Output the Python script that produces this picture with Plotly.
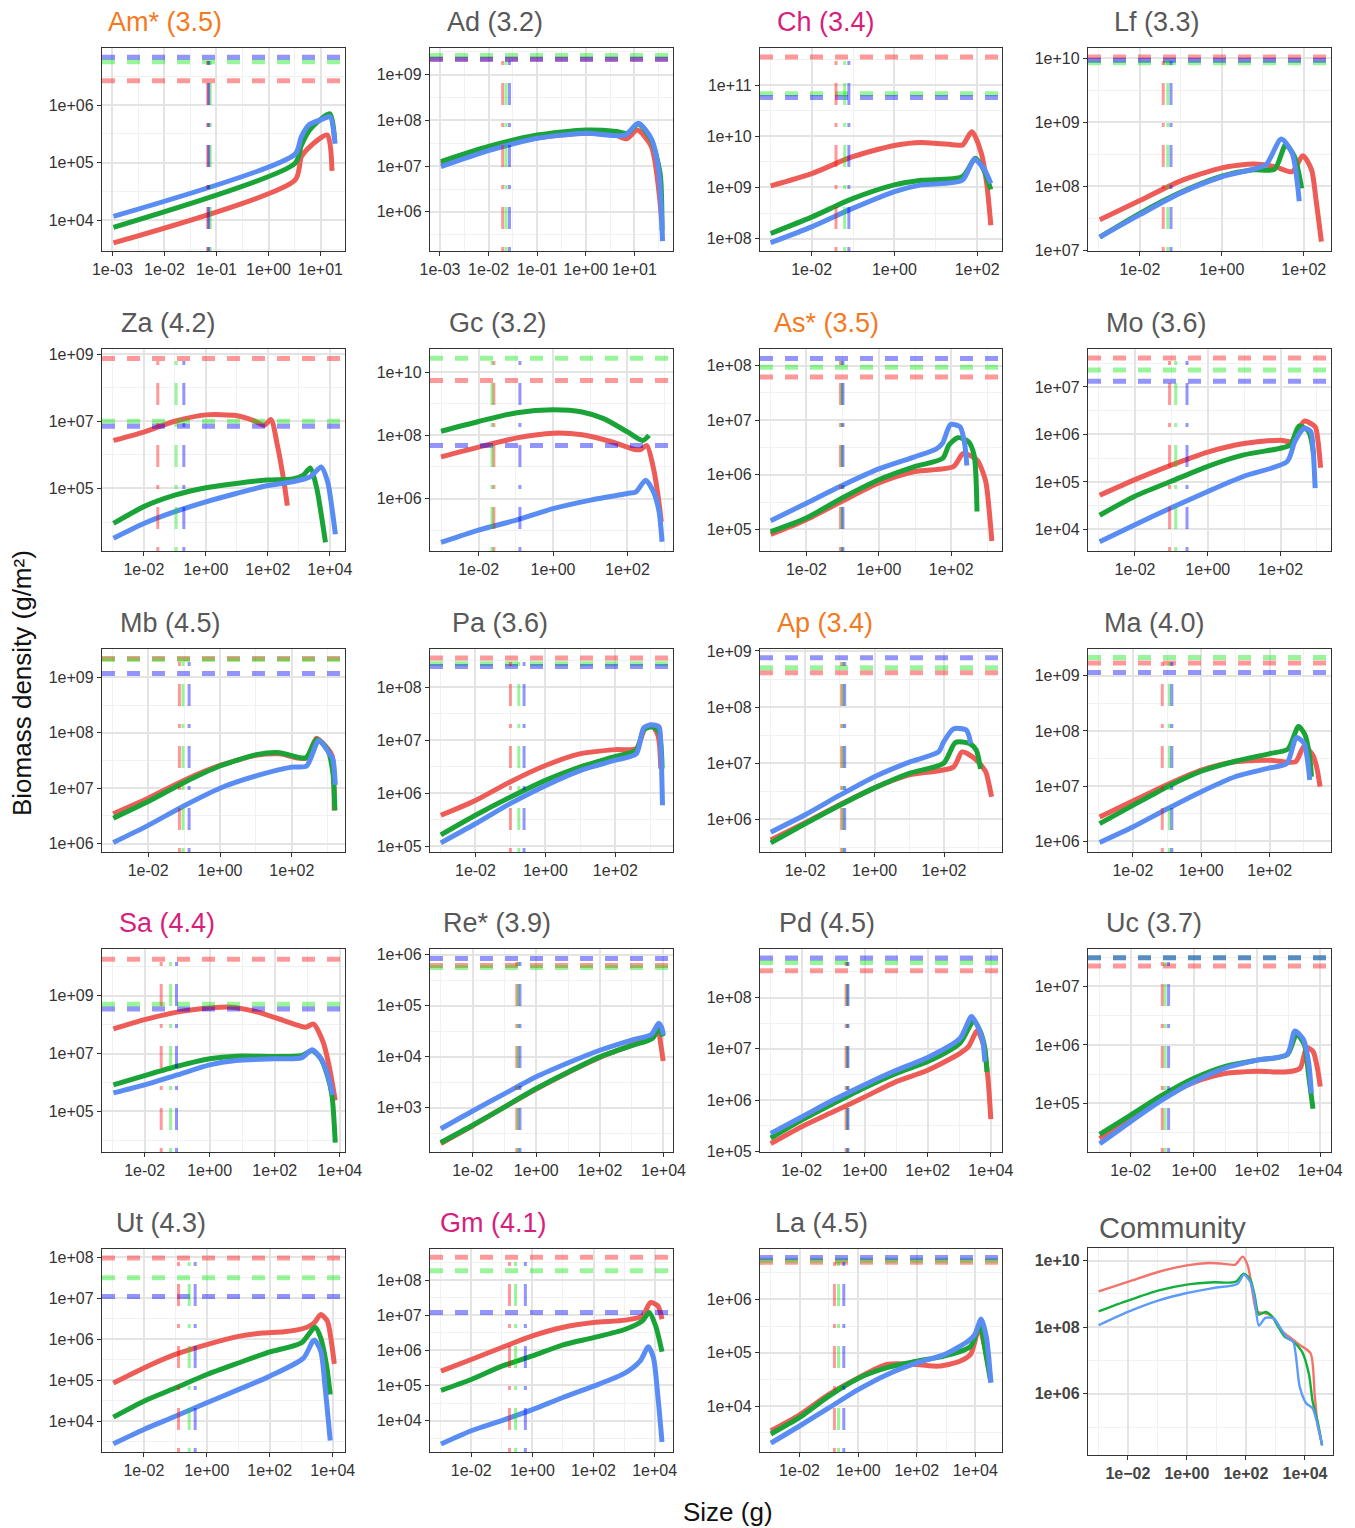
import plotly.graph_objects as go

# ------------------------------------------------------------------
# DATA  (values are read off the picture, stored as log10 exponents:
#        (log10 size [g], log10 biomass density [g/m^2]))
# order of H (horizontal dashed) and V (vertical dashed) lists: red, green, blue
# ------------------------------------------------------------------
TITLES = ["Am* (3.5)", "Ad (3.2)", "Ch (3.4)", "Lf (3.3)",
          "Za (4.2)", "Gc (3.2)", "As* (3.5)", "Mo (3.6)",
          "Mb (4.5)", "Pa (3.6)", "Ap (3.4)", "Ma (4.0)",
          "Sa (4.4)", "Re* (3.9)", "Pd (4.5)", "Uc (3.7)",
          "Ut (4.3)", "Gm (4.1)", "La (4.5)", "Community"]
TITLE_GROUP = ["o", "g", "m", "g",
               "g", "g", "o", "g",
               "g", "g", "o", "g",
               "m", "g", "g", "g",
               "g", "m", "g", "g"]

X_TICKS = [[-3, -2, -1, 0, 1], [-3, -2, -1, 0, 1], [-2, 0, 2], [-2, 0, 2],
           [-2, 0, 2, 4], [-2, 0, 2], [-2, 0, 2], [-2, 0, 2],
           [-2, 0, 2], [-2, 0, 2], [-2, 0, 2], [-2, 0, 2],
           [-2, 0, 2, 4], [-2, 0, 2, 4], [-2, 0, 2, 4], [-2, 0, 2, 4],
           [-2, 0, 2, 4], [-2, 0, 2, 4], [-2, 0, 2, 4], [-2, 0, 2, 4]]
Y_TICKS = [[4, 5, 6], [6, 7, 8, 9], [8, 9, 10, 11], [7, 8, 9, 10],
           [5, 7, 9], [6, 8, 10], [5, 6, 7, 8], [4, 5, 6, 7],
           [6, 7, 8, 9], [5, 6, 7, 8], [6, 7, 8, 9], [6, 7, 8, 9],
           [5, 7, 9], [3, 4, 5, 6], [5, 6, 7, 8], [5, 6, 7],
           [4, 5, 6, 7, 8], [4, 5, 6, 7, 8], [4, 5, 6], [6, 8, 10]]

AM_R = [(-2.98, 3.61), (0.51, 4.70), (0.63, 5.10), (0.76, 5.25), (1.13, 5.48), (1.22, 4.86)]
AM_G = [(-2.98, 3.88), (0.51, 4.99), (0.63, 5.30), (0.80, 5.58), (1.18, 5.85), (1.27, 5.40)]
AM_B = [(-2.98, 4.07), (0.51, 5.15), (0.63, 5.45), (0.78, 5.66), (1.05, 5.76), (1.18, 5.80), (1.28, 5.33)]
AM_H = [6.42, 6.75, 6.83]
AM_V = [-1.17, -1.12, -1.15]

AD_R = [(-2.98, 7.05), (-2.0, 7.38), (-1.0, 7.62), (0.0, 7.72), (0.60, 7.68), (0.85, 7.60), (1.06, 7.79), (1.35, 7.43), (1.51, 6.40), (1.56, 5.80)]
AD_G = [(-2.98, 7.10), (-2.0, 7.43), (-1.0, 7.68), (0.0, 7.79), (0.63, 7.76), (0.86, 7.72), (1.08, 7.92), (1.35, 7.57), (1.53, 6.84), (1.57, 5.60)]
AD_B = [(-2.98, 6.99), (-2.0, 7.34), (-1.0, 7.61), (0.0, 7.72), (0.81, 7.68), (1.08, 7.94), (1.35, 7.60), (1.50, 6.90), (1.58, 5.36)]
AD_H = [9.34, 9.42, 9.34]
AD_V = [-1.71, -1.64, -1.57]

CH_R = [(-2.99, 9.03), (-2.0, 9.27), (-1.01, 9.60), (0.0, 9.82), (0.65, 9.88), (1.48, 9.83), (1.65, 9.83), (1.875, 10.09), (2.10, 9.67), (2.23, 9.08), (2.33, 8.26)]
CH_G = [(-2.99, 8.10), (-2.0, 8.42), (-1.01, 8.78), (0.0, 9.05), (0.65, 9.14), (1.64, 9.21), (1.96, 9.57), (2.16, 9.34), (2.33, 8.96)]
CH_B = [(-2.99, 7.92), (-2.0, 8.23), (-1.01, 8.59), (0.0, 8.92), (0.65, 9.05), (1.64, 9.14), (1.93, 9.55), (2.16, 9.37), (2.33, 9.08)]
CH_H = [11.55, 10.83, 10.76]
CH_V = [-1.41, -1.20, -1.10]

LF_R = [(-2.98, 7.48), (-2.0, 7.78), (-1.03, 8.08), (0.0, 8.29), (0.77, 8.35), (1.29, 8.31), (1.715, 8.23), (1.98, 8.48), (2.19, 8.26), (2.30, 7.79), (2.43, 7.14)]
LF_G = [(-2.98, 7.21), (-2.0, 7.58), (-1.03, 7.90), (0.0, 8.16), (0.77, 8.26), (1.29, 8.27), (1.56, 8.65), (1.77, 8.47), (1.95, 7.97)]
LF_B = [(-2.98, 7.21), (-2.0, 7.56), (-1.03, 7.89), (0.0, 8.15), (0.77, 8.27), (1.08, 8.34), (1.45, 8.74), (1.715, 8.52), (1.89, 7.77)]
LF_H = [10.02, 9.93, 9.97]
LF_V = [-1.43, -1.32, -1.24]

ZA_R = [(-2.98, 6.43), (-2.0, 6.68), (-1.0, 7.0), (0.0, 7.19), (0.98, 7.17), (1.54, 7.02), (1.89, 6.88), (2.10, 7.05), (2.31, 6.28), (2.52, 5.20), (2.63, 4.49)]
ZA_G = [(-2.98, 3.96), (-2.0, 4.46), (-1.0, 4.80), (0.0, 5.02), (0.98, 5.15), (1.96, 5.25), (2.80, 5.28), (3.15, 5.40), (3.37, 5.61), (3.58, 5.0), (3.76, 4.01), (3.86, 3.40)]
ZA_B = [(-2.98, 3.52), (-2.0, 3.96), (-1.0, 4.31), (0.0, 4.60), (0.98, 4.85), (1.96, 5.08), (2.80, 5.20), (3.37, 5.35), (3.72, 5.64), (3.93, 5.20), (4.07, 4.41), (4.18, 3.64)]
ZA_H = [8.87, 7.0, 6.85]
ZA_V = [-1.55, -0.96, -0.71]

GC_R = [(-3.01, 7.32), (-2.0, 7.63), (-0.97, 7.92), (0.0, 8.07), (0.78, 8.02), (1.59, 7.79), (2.17, 7.56), (2.35, 7.55), (2.52, 7.68), (2.70, 6.95), (2.82, 6.11), (2.91, 5.26)]
GC_G = [(-3.01, 8.13), (-2.0, 8.44), (-0.97, 8.72), (0.0, 8.81), (0.78, 8.74), (1.36, 8.53), (2.0, 8.11), (2.41, 7.84), (2.58, 8.0)]
GC_B = [(-3.01, 4.61), (-2.0, 5.0), (-0.97, 5.32), (0.0, 5.68), (1.01, 5.95), (2.0, 6.16), (2.23, 6.21), (2.49, 6.58), (2.70, 6.21), (2.85, 5.58), (2.93, 4.63)]
GC_H = [9.74, 10.44, 7.68]
GC_V = [-1.59, -1.64, -0.89]

AS_R = [(-2.985, 4.91), (-2.0, 5.18), (-1.0, 5.52), (0.0, 5.85), (0.99, 6.06), (2.06, 6.15), (2.33, 6.39), (2.71, 6.27), (2.95, 5.88), (3.04, 5.39), (3.12, 4.79)]
AS_G = [(-2.985, 4.96), (-2.0, 5.21), (-1.0, 5.58), (0.0, 5.91), (0.99, 6.15), (1.76, 6.30), (1.94, 6.55), (2.18, 6.68), (2.47, 6.61), (2.63, 6.36), (2.71, 5.33)]
AS_B = [(-2.985, 5.16), (-2.0, 5.48), (-1.0, 5.81), (0.0, 6.11), (0.99, 6.33), (1.58, 6.47), (1.76, 6.58), (1.98, 6.92), (2.24, 6.88), (2.36, 6.61), (2.43, 6.17)]
AS_H = [7.79, 7.97, 8.13]
AS_V = [-1.06, -1.02, -0.99]

MO_R = [(-2.97, 4.72), (-2.0, 5.05), (-1.02, 5.35), (0.0, 5.63), (0.99, 5.81), (2.0, 5.88), (2.30, 5.85), (2.65, 6.28), (2.95, 6.16), (3.03, 5.85), (3.10, 5.30)]
MO_G = [(-2.97, 4.30), (-2.0, 4.70), (-1.02, 5.01), (0.0, 5.33), (0.99, 5.57), (2.0, 5.71), (2.27, 5.78), (2.51, 6.18), (2.77, 6.06), (2.91, 5.57)]
MO_B = [(-2.97, 3.74), (-2.0, 4.10), (-1.02, 4.45), (0.0, 4.80), (0.99, 5.12), (2.18, 5.43), (2.39, 5.85), (2.65, 6.13), (2.83, 6.06), (2.90, 5.60), (2.95, 4.87)]
MO_H = [7.61, 7.36, 7.12]
MO_V = [-1.05, -0.88, -0.57]

MB_R = [(-2.97, 6.54), (-2.0, 6.82), (-1.01, 7.14), (0.0, 7.41), (1.05, 7.60), (1.66, 7.62), (2.39, 7.54), (2.69, 7.90), (3.0, 7.71), (3.12, 7.59), (3.18, 6.60)]
MB_G = [(-2.97, 6.46), (-2.0, 6.76), (-1.01, 7.10), (0.0, 7.40), (1.05, 7.61), (1.66, 7.64), (2.39, 7.55), (2.69, 7.88), (3.0, 7.69), (3.14, 7.29), (3.20, 6.60)]
MB_B = [(-2.97, 6.02), (-2.0, 6.33), (-1.01, 6.68), (0.0, 7.0), (1.05, 7.23), (2.0, 7.38), (2.41, 7.40), (2.75, 7.86), (3.02, 7.65), (3.14, 7.53), (3.21, 7.06)]
MB_H = [9.34, 9.32, 9.07]
MB_V = [-1.13, -1.03, -0.86]

PA_R = [(-2.99, 5.58), (-2.0, 5.86), (-1.01, 6.21), (0.0, 6.52), (0.98, 6.74), (2.0, 6.82), (2.6, 6.84), (2.84, 7.21), (3.03, 7.28), (3.22, 7.09), (3.30, 6.46)]
PA_G = [(-2.99, 5.21), (-2.0, 5.58), (-1.01, 5.92), (0.0, 6.24), (0.98, 6.49), (2.0, 6.69), (2.6, 6.81), (2.82, 7.20), (3.09, 7.25), (3.25, 7.15), (3.34, 6.46)]
PA_B = [(-2.99, 5.06), (-2.0, 5.42), (-1.01, 5.80), (0.0, 6.14), (0.98, 6.42), (2.0, 6.62), (2.6, 6.74), (2.81, 7.23), (3.03, 7.29), (3.25, 7.25), (3.30, 6.90), (3.35, 5.77)]
PA_H = [8.55, 8.44, 8.39]
PA_V = [-1.0, -0.76, -0.61]

AP_R = [(-2.99, 5.63), (-2.0, 5.94), (-1.0, 6.26), (0.0, 6.56), (1.0, 6.79), (2.27, 6.93), (2.52, 7.20), (2.89, 7.08), (3.20, 6.85), (3.30, 6.61), (3.37, 6.40)]
AP_G = [(-2.99, 5.58), (-2.0, 5.92), (-1.0, 6.25), (0.0, 6.56), (1.0, 6.82), (1.99, 7.0), (2.33, 7.37), (2.73, 7.35), (2.93, 7.23), (3.05, 6.90)]
AP_B = [(-2.99, 5.77), (-2.0, 6.08), (-1.0, 6.43), (0.0, 6.76), (1.0, 7.02), (1.84, 7.20), (1.99, 7.38), (2.27, 7.61), (2.64, 7.59), (2.77, 7.35)]
AP_H = [8.61, 8.70, 8.88]
AP_V = [-0.95, -0.91, -0.86]

MA_R = [(-2.97, 6.44), (-2.0, 6.73), (-0.99, 7.03), (0.0, 7.29), (0.99, 7.44), (2.0, 7.47), (2.75, 7.44), (3.0, 7.72), (3.26, 7.56), (3.38, 7.32), (3.47, 6.99)]
MA_G = [(-2.97, 6.32), (-2.0, 6.65), (-0.99, 6.99), (0.0, 7.27), (0.99, 7.45), (2.0, 7.59), (2.53, 7.67), (2.84, 8.08), (3.03, 7.93), (3.16, 7.56), (3.22, 7.17)]
MA_B = [(-2.97, 5.98), (-2.0, 6.26), (-0.99, 6.59), (0.0, 6.90), (0.99, 7.17), (2.0, 7.33), (2.50, 7.41), (2.78, 7.88), (3.0, 7.78), (3.11, 7.44), (3.17, 7.11)]
MA_H = [9.23, 9.33, 9.06]
MA_V = [-1.14, -0.93, -0.86]

SA_R = [(-2.96, 7.85), (-2.0, 8.17), (-1.0, 8.43), (0.0, 8.57), (0.68, 8.60), (1.48, 8.43), (2.28, 8.14), (2.95, 7.91), (3.19, 8.02), (3.49, 7.39), (3.69, 6.47), (3.86, 5.38)]
SA_G = [(-2.96, 5.92), (-2.0, 6.24), (-1.0, 6.56), (0.0, 6.82), (0.81, 6.91), (2.0, 6.90), (2.82, 6.93), (3.15, 7.10), (3.42, 6.82), (3.62, 6.24), (3.76, 5.55), (3.86, 3.92)]
SA_B = [(-2.96, 5.64), (-2.0, 5.92), (-1.0, 6.26), (0.0, 6.61), (0.81, 6.76), (2.0, 6.82), (2.82, 6.85), (3.15, 7.13), (3.42, 6.82), (3.62, 6.30), (3.78, 5.57)]
SA_H = [10.26, 8.70, 8.54]
SA_V = [-1.49, -1.20, -1.02]

RE_R = [(-3.0, 2.30), (-2.0, 2.65), (0.0, 3.37), (2.0, 3.99), (3.0, 4.23), (3.65, 4.40), (3.83, 4.53), (3.92, 4.23), (3.99, 3.92)]
RE_G = [(-3.0, 2.32), (-2.0, 2.66), (-0.99, 3.02), (0.0, 3.38), (1.03, 3.71), (2.0, 4.0), (3.0, 4.22), (3.65, 4.36), (3.87, 4.56), (3.98, 4.40)]
RE_B = [(-3.0, 2.59), (-2.0, 2.94), (-0.99, 3.28), (0.0, 3.61), (1.03, 3.89), (2.0, 4.13), (3.0, 4.33), (3.62, 4.44), (3.85, 4.66), (3.94, 4.58), (4.0, 4.43)]
RE_H = [5.79, 5.75, 5.93]
RE_V = [-0.61, -0.57, -0.51]

PD_R = [(-2.98, 5.15), (-2.0, 5.48), (-1.0, 5.77), (0.0, 6.06), (1.0, 6.36), (2.0, 6.58), (3.02, 6.91), (3.29, 7.04), (3.57, 7.35), (3.77, 7.07), (3.91, 6.42), (4.0, 5.63)]
PD_G = [(-2.98, 5.26), (-2.0, 5.61), (-1.0, 5.93), (0.0, 6.24), (1.0, 6.52), (2.0, 6.75), (3.02, 7.11), (3.46, 7.54), (3.67, 7.33), (3.81, 7.01), (3.88, 6.55)]
PD_B = [(-2.98, 5.35), (-2.0, 5.67), (-1.0, 6.0), (0.0, 6.30), (1.0, 6.58), (2.0, 6.83), (3.02, 7.20), (3.39, 7.63), (3.59, 7.43), (3.74, 7.17), (3.81, 6.75)]
PD_H = [8.52, 8.685, 8.77]
PD_V = [-0.59, -0.55, -0.53]

UC_R = [(-2.98, 4.40), (-2.0, 4.75), (-1.0, 5.10), (0.0, 5.36), (0.97, 5.51), (2.0, 5.55), (2.95, 5.54), (3.36, 5.60), (3.57, 5.95), (3.77, 5.89), (3.91, 5.60), (4.0, 5.29)]
UC_G = [(-2.98, 4.47), (-2.0, 4.80), (-1.0, 5.14), (0.0, 5.43), (0.97, 5.63), (2.0, 5.74), (2.95, 5.83), (3.25, 6.18), (3.50, 6.0), (3.63, 5.49), (3.77, 4.91)]
UC_B = [(-2.98, 4.31), (-2.0, 4.69), (-1.0, 5.06), (0.0, 5.37), (0.97, 5.60), (2.0, 5.74), (2.95, 5.84), (3.20, 6.24), (3.47, 6.09), (3.63, 5.71), (3.72, 5.17)]
UC_H = [7.35, 7.49, 7.49]
UC_V = [-1.0, -0.91, -0.80]

UT_R = [(-2.97, 4.93), (-2.0, 5.30), (-1.0, 5.63), (0.0, 5.87), (1.0, 6.07), (1.76, 6.15), (2.45, 6.18), (3.14, 6.28), (3.41, 6.40), (3.62, 6.60), (3.83, 6.44), (3.94, 6.03), (4.05, 5.40)]
UT_G = [(-2.97, 4.10), (-2.0, 4.49), (-1.0, 4.81), (0.0, 5.14), (1.0, 5.42), (2.0, 5.69), (3.0, 5.91), (3.44, 6.29), (3.62, 6.03), (3.80, 5.38), (3.92, 4.65)]
UT_B = [(-2.97, 3.45), (-2.0, 3.80), (-1.0, 4.12), (0.0, 4.45), (1.0, 4.77), (2.0, 5.10), (3.07, 5.54), (3.41, 5.98), (3.62, 5.71), (3.76, 4.81), (3.92, 3.53)]
UT_H = [7.98, 7.50, 7.04]
UT_V = [-0.90, -0.56, -0.37]

GM_R = [(-2.99, 5.41), (-2.0, 5.74), (-1.0, 6.08), (0.0, 6.41), (0.98, 6.65), (2.0, 6.79), (3.04, 6.86), (3.60, 6.98), (3.86, 7.36), (4.10, 7.27), (4.24, 6.89)]
GM_G = [(-2.99, 4.86), (-2.0, 5.17), (-1.0, 5.55), (0.0, 5.84), (0.98, 6.15), (2.0, 6.36), (3.04, 6.60), (3.60, 6.84), (3.82, 7.08), (4.03, 6.70), (4.24, 5.96)]
GM_B = [(-2.99, 3.33), (-2.0, 3.71), (-1.0, 4.0), (0.0, 4.31), (0.98, 4.65), (2.0, 4.98), (3.04, 5.36), (3.53, 5.70), (3.79, 6.10), (3.96, 5.79), (4.10, 4.74), (4.24, 3.39)]
GM_H = [8.65, 8.27, 7.08]
GM_V = [-0.75, -0.55, -0.23]

LA_R = [(-2.98, 3.54), (-2.0, 3.84), (-1.0, 4.22), (0.0, 4.53), (0.98, 4.78), (2.0, 4.78), (2.74, 4.75), (3.47, 4.84), (3.84, 4.97), (4.13, 5.47), (4.35, 5.03), (4.53, 4.47)]
LA_G = [(-2.98, 3.48), (-2.0, 3.79), (-1.0, 4.19), (0.0, 4.52), (0.98, 4.72), (2.0, 4.84), (2.96, 4.94), (3.84, 5.12), (4.16, 5.53), (4.35, 5.0), (4.53, 4.45)]
LA_B = [(-2.98, 3.31), (-2.0, 3.63), (-1.0, 3.97), (0.0, 4.31), (0.98, 4.59), (2.0, 4.81), (2.96, 4.97), (3.76, 5.22), (3.98, 5.34), (4.20, 5.63), (4.38, 5.28), (4.53, 4.44)]
LA_H = [6.69, 6.73, 6.78]
LA_V = [-0.81, -0.67, -0.49]

CO_R = [(-2.99, 9.08), (-2.0, 9.36), (-0.98, 9.66), (0.0, 9.86), (0.77, 9.93), (1.20, 9.91), (1.64, 9.88), (1.89, 10.12), (2.07, 9.83), (2.22, 9.08), (2.37, 8.46), (2.59, 8.43), (2.80, 8.38), (3.02, 8.18), (3.24, 7.87), (3.53, 7.67), (3.82, 7.47), (4.19, 7.22), (4.33, 5.97), (4.43, 5.07), (4.58, 4.47)]
CO_G = [(-2.99, 8.48), (-2.0, 8.80), (-0.98, 9.10), (0.0, 9.28), (0.91, 9.35), (1.64, 9.36), (1.93, 9.61), (2.15, 9.43), (2.29, 8.98), (2.44, 8.38), (2.66, 8.46), (2.88, 8.33), (3.09, 8.02), (3.31, 7.72), (3.60, 7.57), (3.90, 7.27), (4.14, 6.57), (4.26, 5.77), (4.43, 5.17), (4.58, 4.45)]
CO_B = [(-2.99, 8.06), (-2.0, 8.46), (-0.98, 8.80), (0.0, 9.03), (0.91, 9.18), (1.71, 9.30), (1.93, 9.58), (2.15, 9.36), (2.29, 8.88), (2.44, 8.05), (2.66, 8.28), (2.95, 8.26), (3.17, 7.97), (3.39, 7.69), (3.60, 7.57), (3.82, 6.22), (4.04, 5.72), (4.26, 5.57), (4.40, 5.17), (4.58, 4.47)]

SERIES = [(AM_R, AM_G, AM_B), (AD_R, AD_G, AD_B), (CH_R, CH_G, CH_B), (LF_R, LF_G, LF_B),
          (ZA_R, ZA_G, ZA_B), (GC_R, GC_G, GC_B), (AS_R, AS_G, AS_B), (MO_R, MO_G, MO_B),
          (MB_R, MB_G, MB_B), (PA_R, PA_G, PA_B), (AP_R, AP_G, AP_B), (MA_R, MA_G, MA_B),
          (SA_R, SA_G, SA_B), (RE_R, RE_G, RE_B), (PD_R, PD_G, PD_B), (UC_R, UC_G, UC_B),
          (UT_R, UT_G, UT_B), (GM_R, GM_G, GM_B), (LA_R, LA_G, LA_B), (CO_R, CO_G, CO_B)]
HLINES = [AM_H, AD_H, CH_H, LF_H, ZA_H, GC_H, AS_H, MO_H, MB_H, PA_H, AP_H, MA_H,
          SA_H, RE_H, PD_H, UC_H, UT_H, GM_H, LA_H, None]
VLINES = [AM_V, AD_V, CH_V, LF_V, ZA_V, GC_V, AS_V, MO_V, MB_V, PA_V, AP_V, MA_V,
          SA_V, RE_V, PD_V, UC_V, UT_V, GM_V, LA_V, None]

# ------------------------------------------------------------------
# LAYOUT (pixel geometry, axis ranges in log10 units, styles)
# ------------------------------------------------------------------
W, H = 1355, 1528
COL_PX = [(102, 345), (430, 673), (760, 1002), (1088, 1331)]
ROW_PX = [(48, 251), (349, 551), (649, 852), (949, 1152), (1249, 1452)]
COMMUNITY_BOX = ((1088, 1333), (1248, 1455))
X_RANGES = [(-3.20, 1.47), (-3.205, 1.795), (-3.247, 2.60), (-3.267, 2.665),
            (-3.35, 4.49), (-3.306, 3.224), (-3.28, 3.40), (-3.29, 3.385),
            (-3.285, 3.48), (-3.30, 3.65), (-3.30, 3.67), (-3.31, 3.79),
            (-3.31, 4.16), (-3.34, 4.30), (-3.32, 4.355), (-3.35, 4.34),
            (-3.33, 4.39), (-3.35, 4.60), (-3.35, 4.91), (-3.35, 4.95)]
Y_RANGES = [(3.47, 6.99), (5.144, 9.585), (7.758, 11.725), (6.993, 10.16),
            (3.14, 9.15), (4.337, 10.737), (4.606, 8.303), (3.546, 7.80),
            (5.85, 9.51), (4.887, 8.72), (5.417, 9.035), (5.806, 9.485),
            (3.60, 10.61), (2.135, 6.115), (4.987, 8.946), (4.17, 7.64),
            (3.25, 8.20), (3.105, 8.886), (3.144, 6.94), (4.165, 10.38)]
TITLE_X = [106, 445, 775, 1112, 119, 447, 772, 1104, 118, 450, 775, 1102,
           117, 441, 777, 1104, 114, 438, 773, 1097]

CURVE_COLORS = ["#EE5C57", "#1AA336", "#5A8DF4"]
COMM_COLORS = ["#F4736B", "#10B03A", "#5C9BFA"]
REF_COLORS = ["rgba(255,0,0,0.40)", "rgba(0,230,0,0.40)", "rgba(0,0,255,0.42)"]
TITLE_COLORS = {"o": "#F47A1F", "g": "#585858", "m": "#D81E7C"}
TICK_FONT = dict(family="Liberation Sans, Arial, sans-serif", size=16, color="#333333")
COMM_TICK_FONT = dict(family="Liberation Sans, Arial, sans-serif", size=16,
                      color="#444444", weight="bold")


def tick_label(e, minus="-"):
    return "1e%s%02d" % ("+" if e >= 0 else minus, abs(e))


def minor_vals(ticks, rng):
    step = ticks[1] - ticks[0]
    cands = [ticks[0] - step / 2] + [t + step / 2 for t in ticks]
    return [10 ** c for c in cands if rng[0] < c < rng[1]]


fig = go.Figure()
layout = dict(width=W, height=H, margin=dict(l=0, r=0, t=0, b=0, autoexpand=False),
              paper_bgcolor="white", plot_bgcolor="white", showlegend=False,
              hovermode=False, annotations=[])

for i in range(20):
    n = i + 1
    xa, ya = ("x", "y") if n == 1 else ("x%d" % n, "y%d" % n)
    community = (i == 19)
    if community:
        (l, r), (t, b) = COMMUNITY_BOX
    else:
        l, r = COL_PX[i % 4]
        t, b = ROW_PX[i // 4]
    xr, yr = X_RANGES[i], Y_RANGES[i]

    # curves
    colors = COMM_COLORS if community else CURVE_COLORS
    for pts, col in zip(SERIES[i], colors):
        fig.add_trace(go.Scatter(
            x=[10 ** p[0] for p in pts], y=[10 ** p[1] for p in pts],
            mode="lines", xaxis=xa, yaxis=ya, hoverinfo="skip",
            line=dict(color=col, width=2.4 if community else 5, shape="spline", smoothing=0.7)))

    # reference lines
    if HLINES[i] is not None:
        for v, col in zip(HLINES[i], REF_COLORS):
            fig.add_trace(go.Scatter(
                x=[10 ** xr[0], 10 ** xr[1]], y=[10 ** v, 10 ** v], mode="lines",
                xaxis=xa, yaxis=ya, hoverinfo="skip",
                line=dict(color=col, width=5, dash="13px,12px")))
        for v, col in zip(VLINES[i], REF_COLORS):
            fig.add_trace(go.Scatter(
                x=[10 ** v, 10 ** v], y=[10 ** yr[0], 10 ** yr[1]], mode="lines",
                xaxis=xa, yaxis=ya, hoverinfo="skip",
                line=dict(color=col, width=3, dash="4px,18px,22px,18px")))

    minus = "\u2212" if community else "-"
    tfont = COMM_TICK_FONT if community else TICK_FONT
    common = dict(type="log", showline=True, mirror=True, automargin=False,
                  linecolor="#333333", linewidth=1.3, ticks="outside", ticklen=4,
                  tickwidth=1.2, tickcolor="#333333", tickangle=0, showgrid=True,
                  gridcolor="#E4E4E4", gridwidth=1.6, zeroline=False, tickfont=tfont,
                  fixedrange=True)
    xt, yt = X_TICKS[i], Y_TICKS[i]
    layout["xaxis" if n == 1 else "xaxis%d" % n] = dict(
        common, domain=[l / W, r / W], range=list(xr), anchor=ya,
        tickmode="array", tickvals=[10 ** e for e in xt],
        ticktext=[tick_label(e, minus) for e in xt],
        minor=dict(tickmode="array", tickvals=minor_vals(xt, xr), showgrid=True,
                   gridcolor="#F1F1F1", gridwidth=1, ticks=""))
    layout["yaxis" if n == 1 else "yaxis%d" % n] = dict(
        common, domain=[1 - b / H, 1 - t / H], range=list(yr), anchor=xa,
        tickmode="array", tickvals=[10 ** e for e in yt],
        ticktext=[tick_label(e, minus) for e in yt],
        minor=dict(tickmode="array", tickvals=minor_vals(yt, yr), showgrid=True,
                   gridcolor="#F1F1F1", gridwidth=1, ticks=""))

    layout["annotations"].append(dict(
        text=TITLES[i], xref="paper", yref="paper", x=TITLE_X[i] / W,
        y=1 - (t - 26 if not community else t - 20) / H,
        xanchor="left", yanchor="middle", showarrow=False,
        font=dict(family="Liberation Sans, Arial, sans-serif",
                  size=29 if community else 27, color=TITLE_COLORS[TITLE_GROUP[i]])))

layout["annotations"].append(dict(
    text="Biomass density (g/m²)", xref="paper", yref="paper", x=22 / W, y=1 - 683 / H,
    xanchor="center", yanchor="middle", textangle=-90, showarrow=False,
    font=dict(family="Liberation Sans, Arial, sans-serif", size=26, color="#111111")))
layout["annotations"].append(dict(
    text="Size (g)", xref="paper", yref="paper", x=728 / W, y=1 - 1512 / H,
    xanchor="center", yanchor="middle", showarrow=False,
    font=dict(family="Liberation Sans, Arial, sans-serif", size=26, color="#111111")))

fig.update_layout(**layout)
fig.write_html("out.html", config={"displayModeBar": False},
               post_script="document.body.style.margin='0px';document.body.style.padding='0px';")
